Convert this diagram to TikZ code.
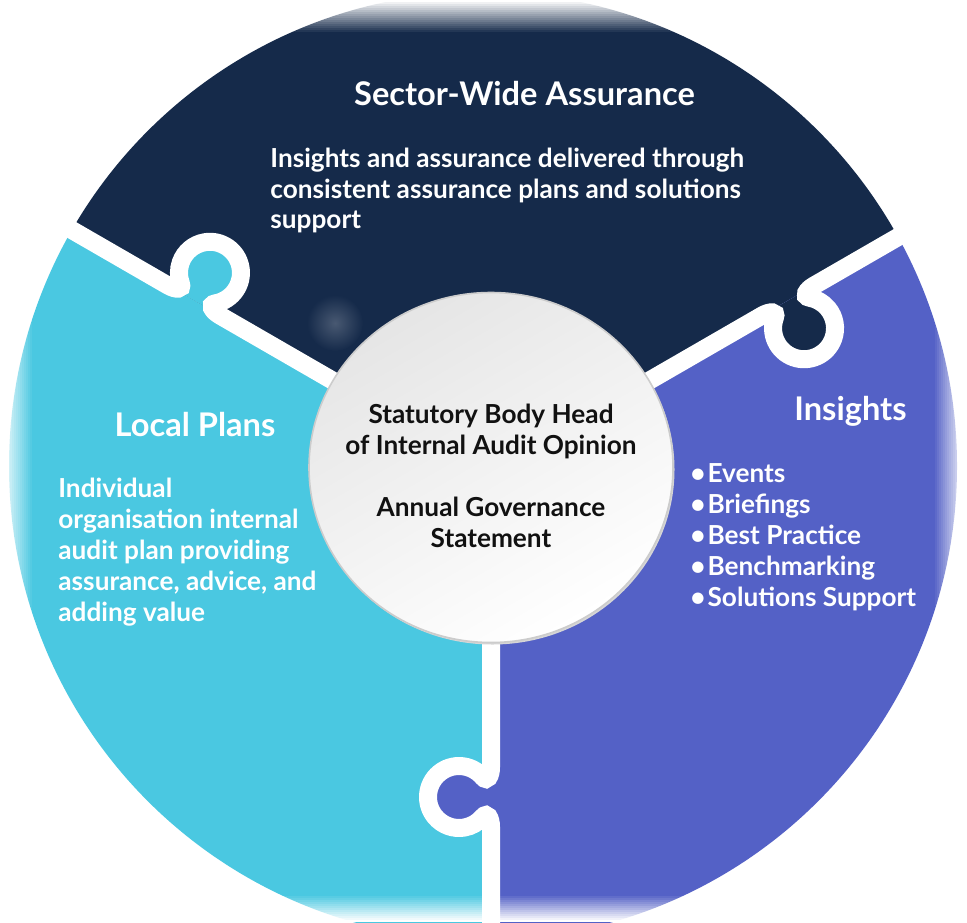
\documentclass[tikz,border=0pt]{standalone}
\usepackage{fontspec}
\setmainfont{Lato}
\usetikzlibrary{calc}
\definecolor{navyC}{HTML}{152A4A}
\definecolor{cyanC}{HTML}{4AC8E1}
\definecolor{purpC}{HTML}{5461C6}
\definecolor{inkC}{HTML}{111111}
\begin{document}
\begin{tikzpicture}[x=0.5pt, y=0.5pt,
  headline/.style={text=white, font=\bfseries\fontsize{16.3}{19}\selectfont, inner sep=0pt, anchor=base},
  bodytext/.style={text=white, font=\bfseries\fontsize{13.1}{15.4}\selectfont, inner sep=0pt, align=left, anchor=north west},
  centretext/.style={text=inkC, font=\bfseries\fontsize{13.1}{15.4}\selectfont, inner sep=0pt, align=center, anchor=north},
  cutline/.style={white, line width=9pt},
]
\useasboundingbox (0,0) rectangle (967,-922);
\fill[white] (0,0) rectangle (967,-922);
\coordinate (O) at (491,-472);
\coordinate (C) at (483,-466);

% the three pieces of the disc
\begin{scope}
  \clip (C) circle (474);
  \fill[navyC] (O) -- ($(O)+(30:700)$) -- ($(O)+(90:700)$) -- ($(O)+(150:700)$) -- cycle;
  \fill[cyanC] (O) -- ($(O)+(150:700)$) -- ($(O)+(210:700)$) -- ($(O)+(270:700)$) -- cycle;
  \fill[purpC] (O) -- ($(O)+(270:700)$) -- ($(O)+(330:700)$) -- ($(O)+(30:700)$) -- cycle;
  \shade[inner color=navyC!78!white, outer color=navyC] (335,-323) circle (28);
  % tabs, each filled with the colour of the piece it belongs to
  \foreach \ang/\kd/\col in {150/343/cyanC, 30/343/navyC, 270/325/purpC}{
    \begin{scope}[shift={(O)}, rotate=\ang, yscale=-1]
      \fill[\col] ({\kd-30},0) .. controls ({\kd-21},0) and ({\kd-14.6},3.75) .. ({\kd-19.93},8.25)
        arc[start angle=230, end angle=-50, radius=31]
        .. controls ({\kd+14.6},3.75) and ({\kd+21},0) .. ({\kd+30},0) -- cycle;
    \end{scope}
  }
\end{scope}

% white cuts between the pieces
\foreach \ang/\kd in {150/343, 30/343, 270/325}{
  \begin{scope}[shift={(O)}, rotate=\ang, yscale=-1]
    \draw[cutline] (0,0) -- ({\kd-30},0) .. controls ({\kd-21},0) and ({\kd-14.6},3.75) .. ({\kd-19.93},8.25)
      arc[start angle=230, end angle=-50, radius=31]
      .. controls ({\kd+14.6},3.75) and ({\kd+21},0) .. ({\kd+30},0) -- (640,0);
  \end{scope}
}

% centre disc
\fill[black!16] (492.5,-469.5) ellipse [x radius=182, y radius=175];
\shadedraw[top color=black!10, bottom color=white, shading angle=30, draw=black!20, line width=0.8pt]
  (491,-467.5) ellipse [x radius=182, y radius=175];

% texts
\node[headline] (swaTitle) at (524.5,-105) {Sector-Wide Assurance};
\node[bodytext] (swaText) at (270,-147.5) {Insights and assurance delivered through\\consistent assurance plans and solutions\\support};
\node[headline] (lpTitle) at (195,-436) {Local Plans};
\node[bodytext] (lpText) at (58,-478) {Individual\\organisation internal\\audit plan providing\\assurance, advice, and\\adding value};
\node[headline] (insTitle) at (850.5,-420) {Insights};
\node[bodytext] (insText) at (690,-463.5) {\textbullet\hspace{1pt}Events\\\textbullet\hspace{1pt}Briefings\\\textbullet\hspace{1pt}Best Practice\\\textbullet\hspace{1pt}Benchmarking\\\textbullet\hspace{1pt}Solutions Support};
\node[centretext] (core) at (491,-404) {Statutory Body Head\\of Internal Audit Opinion\\[15.4pt]Annual Governance\\Statement};

% soft fade along the borders
\foreach \i in {0,...,15}{
  \pgfmathsetmacro\op{1-\i/16}
  \fill[white, fill opacity=\op] ({2*\i},0) rectangle ({2*\i+2},-922);
  \fill[white, fill opacity=\op] ({965-2*\i},0) rectangle ({967-2*\i},-922);
  \fill[white, fill opacity=\op] (0,{-2*\i}) rectangle (967,{-2*\i-2});
}
\foreach \i in {0,...,12}{
  \pgfmathsetmacro\op{1-\i/13}
  \fill[white, fill opacity=\op] (0,{-922+2*\i}) rectangle (967,{-920+2*\i});
}
\end{tikzpicture}
\end{document}
